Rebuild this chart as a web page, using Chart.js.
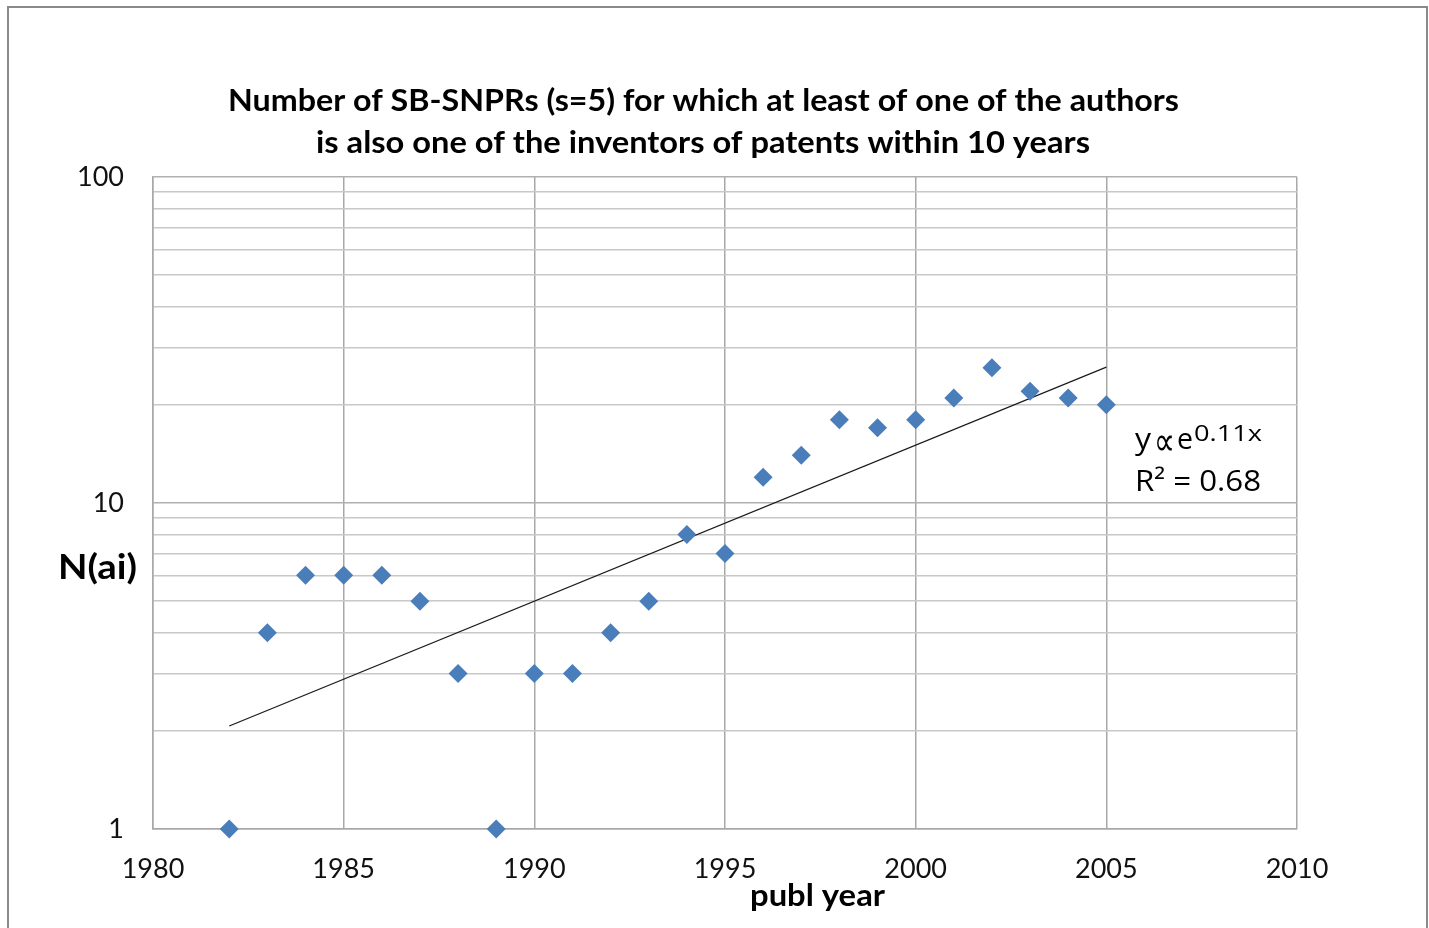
<!DOCTYPE html>
<html>
<head>
<meta charset="utf-8">
<script src="https://cdn.jsdelivr.net/npm/chart.js@4/dist/chart.umd.min.js"></script>
<style>
html,body{margin:0;padding:0;background:#fff;}
#wrap{position:relative;width:1429px;height:928px;}
</style>
</head>
<body>
<div id="wrap"><canvas id="c" width="1429" height="928"></canvas></div>
<script>
// ---- data ----
const years = [1982,1983,1984,1985,1986,1987,1988,1989,1990,1991,1992,1993,1994,1995,1996,1997,1998,1999,2000,2001,2002,2003,2004,2005];
const counts = [1,4,6,6,6,5,3,1,3,3,4,5,8,7,12,14,18,17,18,21,26,22,21,20];
const trendYears = [1982, 2005];
const trendValues = [2.07, 26.1];
const yTickValues = [1,2,3,4,5,6,7,8,9,10,20,30,40,50,60,70,80,90,100];
const yLabelValues = [1,10,100];
const xTickValues = [1980,1985,1990,1995,2000,2005,2010];
const titleLines = ['Number of SB-SNPRs (s=5) for which at least of one of the authors', 'is also one of the inventors of patents within 10 years'];
const yAxisTitle = 'N(ai)';
const xAxisTitle = 'publ year';
const fitParts = ['y', '\u221D', 'e'];
const fitExp = '0.11x';
const r2Label = 'R\u00B2 = 0.68';

const FONT = 'Lato, "Open Sans", "DejaVu Sans", sans-serif';
const AFONT = '"Open Sans", "DejaVu Sans", sans-serif';

function fitText(ctx, text, x, y, width, font, align) {
  ctx.save();
  ctx.font = font;
  ctx.textBaseline = 'alphabetic';
  ctx.textAlign = 'left';
  const w = ctx.measureText(text).width;
  const s = width / w;
  let left = x;
  if (align === 'center') left = x - width / 2;
  else if (align === 'right') left = x - width;
  ctx.translate(left, y);
  ctx.scale(s, 1);
  ctx.fillStyle = '#000';
  ctx.fillText(text, 0, 0);
  ctx.restore();
}

const decor = {
  id: 'decor',
  beforeDraw(chart) {
    const ctx = chart.ctx;
    ctx.save();
    ctx.fillStyle = '#fff';
    ctx.fillRect(0, 0, chart.width, chart.height);
    ctx.strokeStyle = '#8a8a8a';
    ctx.lineWidth = 2;
    ctx.strokeRect(8, 7, 1419, 1000);
    ctx.restore();
  },
  afterDraw(chart) {
    const ctx = chart.ctx;
    fitText(ctx, titleLines[0], 703.5, 111, 951, 'bold 30px ' + FONT, 'center');
    fitText(ctx, titleLines[1], 703, 153, 774, 'bold 30px ' + FONT, 'center');
    fitText(ctx, yAxisTitle, 137, 579, 79, 'bold 34px ' + FONT, 'right');
    fitText(ctx, xAxisTitle, 750, 906, 135, 'bold 31px ' + FONT, 'left');
    fitText(ctx, fitParts[0], 1135, 449, 16, '30px ' + AFONT, 'left');
    fitText(ctx, fitParts[1], 1154, 455, 21, '40px "DejaVu Sans", sans-serif', 'left');
    fitText(ctx, fitParts[2], 1177, 449, 16, '30px ' + AFONT, 'left');
    fitText(ctx, fitExp, 1194, 441, 68, '21px ' + AFONT, 'left');
    fitText(ctx, r2Label, 1135, 491, 126, '29px ' + AFONT, 'left');
  }
};

const scatterData = years.map((y, i) => ({x: y, y: counts[i]}));
const trendData = trendYears.map((y, i) => ({x: y, y: trendValues[i]}));

new Chart(document.getElementById('c'), {
  type: 'scatter',
  data: {
    datasets: [
      {
        label: 'trend',
        data: trendData,
        showLine: true,
        borderColor: '#1a1a1a',
        borderWidth: 1.2,
        pointRadius: 0,
        fill: false,
        clip: false,
        order: 2
      },
      {
        label: 'N(ai)',
        data: scatterData,
        pointStyle: 'rectRot',
        pointRadius: 9.5,
        pointBackgroundColor: '#4a7ebb',
        pointBorderColor: '#4a7ebb',
        pointBorderWidth: 0,
        clip: false,
        order: 1
      }
    ]
  },
  options: {
    responsive: false,
    animation: false,
    devicePixelRatio: 1,
    layout: { padding: { left: 0, top: 177, right: 132, bottom: 0 } },
    plugins: { legend: { display: false }, title: { display: false }, tooltip: { enabled: false } },
    scales: {
      x: {
        type: 'linear',
        min: 1980, max: 2010,
        afterFit(scale) { scale.height = 99; },
        afterBuildTicks(scale) { scale.ticks = xTickValues.map(v => ({value: v})); },
        grid: { color: '#a8a8a8', lineWidth: 1.5, drawTicks: false },
        border: { color: '#a8a8a8', width: 1.5 },
        ticks: { padding: 24, color: '#111', font: { family: FONT, size: 27 }, maxRotation: 0,
          callback: v => String(v) }
      },
      y: {
        type: 'logarithmic',
        min: 1, max: 100,
        afterFit(scale) { scale.width = 153; },
        afterBuildTicks(scale) { scale.ticks = yTickValues.map(v => ({value: v, major: yLabelValues.includes(v)})); },
        grid: {
          color: ctx => (ctx.tick && yLabelValues.includes(ctx.tick.value)) ? '#b0b0b0' : '#c8c8c8',
          lineWidth: 1.5,
          drawTicks: false
        },
        border: { color: '#a8a8a8', width: 1.5 },
        ticks: { padding: 29, color: '#111', font: { family: FONT, size: 27 }, autoSkip: false,
          callback: v => yLabelValues.includes(v) ? String(v) : '' }
      }
    }
  },
  plugins: [decor]
});
</script>
</body>
</html>
